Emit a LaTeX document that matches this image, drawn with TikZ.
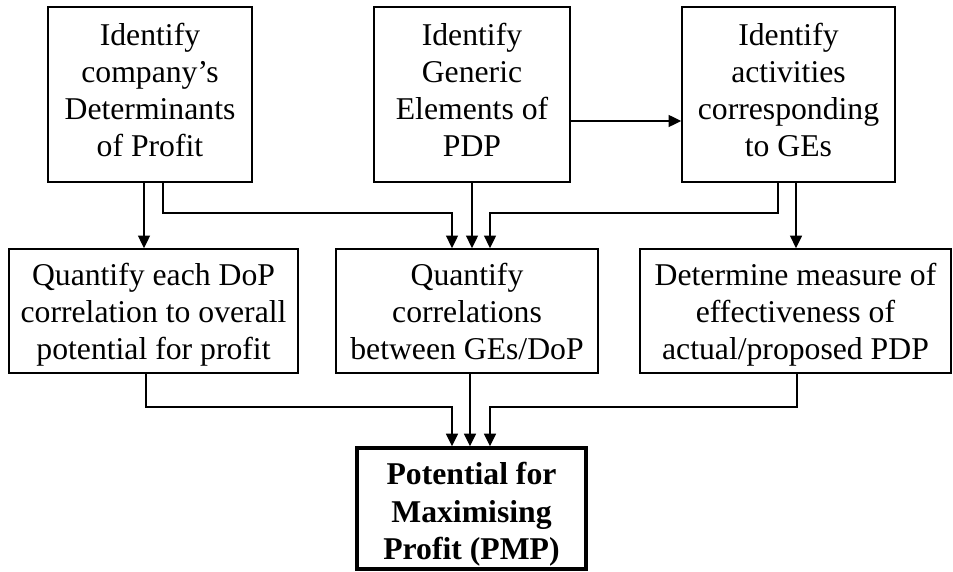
\documentclass[tikz,border=0pt]{standalone}
\usepackage{fontspec}
\setmainfont{Liberation Serif}
\usetikzlibrary{arrows.meta}
\newcommand{\mytop}[1]{\rule{0pt}{#1pt}}
\newcommand{\mybot}[1]{\rule[-#1pt]{0pt}{#1pt}}
\begin{document}
\begin{tikzpicture}[x=1pt,y=-1pt,
  box/.style={draw,line width=1.8pt,inner sep=0pt,align=center,
    font=\fontsize{31.7}{37}\selectfont},
  mainbox/.style={draw,line width=3.6pt,inner sep=0pt},
  maintext/.style={inner sep=0pt,align=center,font=\fontsize{31.7}{37.5}\selectfont\bfseries},
  arr/.style={line width=1.4pt,-{Triangle[length=12.5pt,width=12pt]}}]
\useasboundingbox (0,0) rectangle (953,572);
\node[box,minimum width=204pt,minimum height=175pt] (b1) at (150,94.5)
  {\mytop{26}Identify\\company’s\\Determinants\\of Profit\mybot{12}};
\node[box,minimum width=196pt,minimum height=175pt] (b2) at (472,94.5)
  {\mytop{26}Identify\\Generic\\Elements of\\PDP\mybot{12}};
\node[box,minimum width=213pt,minimum height=175pt] (b3) at (788.5,94.5)
  {\mytop{26}Identify\\activities\\corresponding\\to GEs\mybot{12}};
\node[box,minimum width=289pt,minimum height=124pt] (b4) at (153.5,311)
  {\mytop{30}Quantify each DoP\\correlation to overall\\potential for profit\mybot{8}};
\node[box,minimum width=262pt,minimum height=124pt] (b5) at (467,311)
  {\mytop{30}Quantify\\correlations\\between GEs/DoP\mybot{8}};
\node[box,minimum width=311pt,minimum height=124pt] (b6) at (795.5,311)
  {\mytop{30}Determine measure of\\effectiveness of\\actual/proposed PDP\mybot{8}};
\node[mainbox,minimum width=229pt,minimum height=121pt] (b7) at (471.5,508.5) {};
\node[maintext] (b7t) at (471.5,509)
  {\mytop{34}Potential for\\Maximising\\Profit (PMP)\mybot{8}};
\draw[arr] (b1.south -| 144,0) -- (b4.north -| 144,0);
\draw[arr] (b1.south -| 163,0) -- ++(0,30) -| (b5.north -| 452,0);
\draw[arr] (b2.south -| 472,0) -- (b5.north -| 472,0);
\draw[arr] (b2.east |- 0,121) -- (b3.west |- 0,121);
\draw[arr] (b3.south -| 778,0) -- ++(0,30) -| (b5.north -| 490,0);
\draw[arr] (b3.south -| 796,0) -- (b6.north -| 796,0);
\draw[arr] (b4.south -| 146,0) -- ++(0,33) -| (b7.north -| 452,0);
\draw[arr] (b5.south -| 470,0) -- (b7.north -| 470,0);
\draw[arr] (b6.south -| 797,0) -- ++(0,33) -| (b7.north -| 490,0);
\end{tikzpicture}
\end{document}
